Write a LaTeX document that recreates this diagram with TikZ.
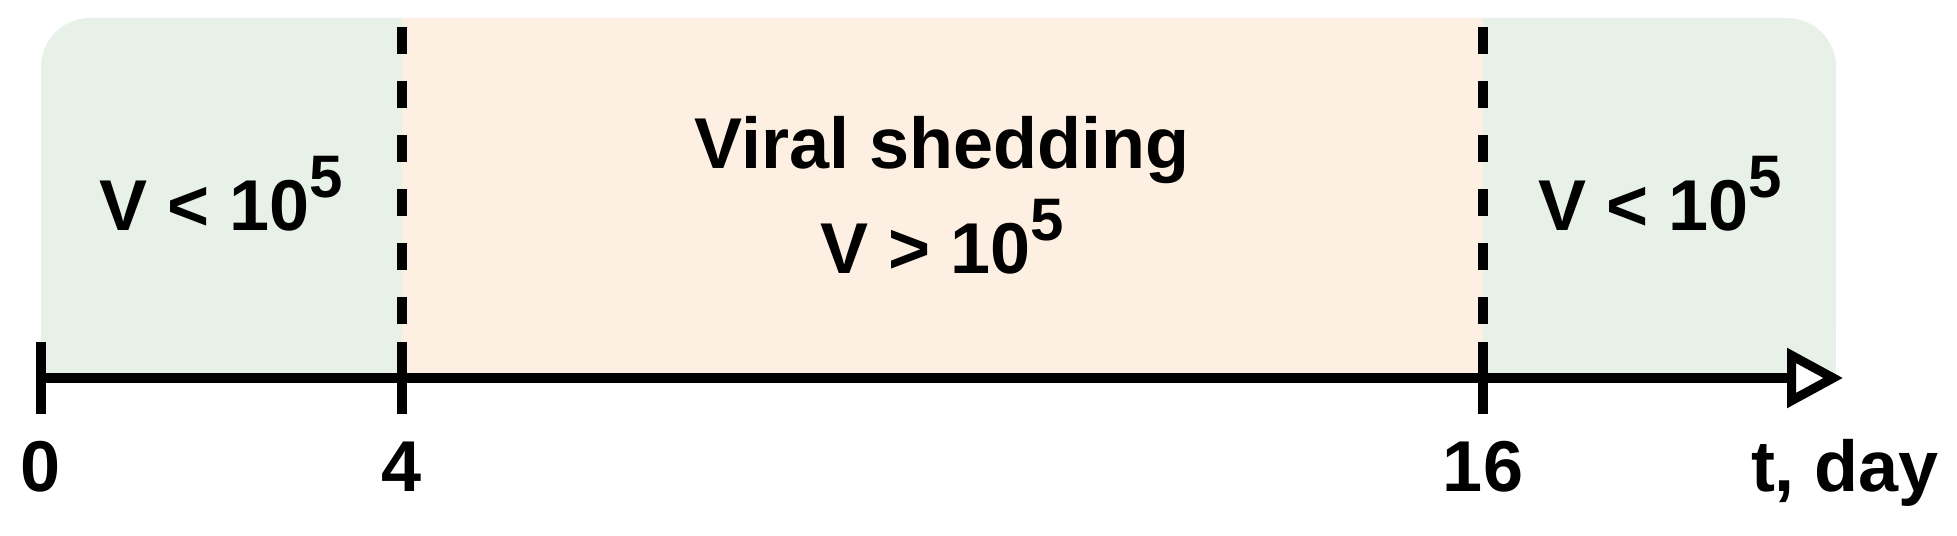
\documentclass[tikz,border=0pt]{standalone}
\usepackage{fontspec}
\setmainfont{Liberation Sans}
\usetikzlibrary{arrows.meta}
\definecolor{lowgreen}{HTML}{E7F1E7}
\definecolor{highorange}{HTML}{FDF0E3}
\newcommand\supfive{\raisebox{16.5pt}{\fontsize{30}{30}\selectfont 5}}
\begin{document}
\begin{tikzpicture}[x=0.5pt,y=-0.5pt,
  lbl/.style={font=\fontsize{36}{36}\selectfont\bfseries, inner sep=0pt, anchor=base},
  axisline/.style={line width=4.6pt},
  divider/.style={line width=4.6pt, dash pattern=on 13.5pt off 13.5pt},
  tickmark/.style={line width=4.6pt},
]
\useasboundingbox (0,0) rectangle (1957,535);
% backgrounds
\fill[lowgreen, rounded corners=24.5pt] (41,18) rectangle (1836,374);
\fill[lowgreen] (41,200) rectangle (1836,374);
\fill[highorange] (402,18) rectangle (1483,374);
% coordinates
\coordinate (t0) at (41,378);
\coordinate (t4) at (402,378);
\coordinate (t16) at (1483,378);
\coordinate (tend) at (1843,378);
\coordinate (d4top) at (402,27);
\coordinate (d16top) at (1483,27);
% dividers
\draw[divider] (d4top) -- (t4);
\draw[divider] (d16top) -- (t16);
% ticks
\draw[tickmark] ([yshift=18pt]t0) -- ([yshift=-18pt]t0);
\draw[tickmark] ([yshift=18pt]t4) -- ([yshift=-18pt]t4);
\draw[tickmark] ([yshift=18pt]t16) -- ([yshift=-18pt]t16);
% axis
\draw[axisline, -{Triangle[fill=white, length=28pt, width=29pt]}] (t0) -- (tend);
% region labels
\node[lbl] (lowleft) at (221,230) {V < 10\supfive};
\node[lbl] (shed) at (942,168) {Viral shedding};
\node[lbl] (high) at (942,273) {V > 10\supfive};
\node[lbl] (lowright) at (1660,230) {V < 10\supfive};
% tick labels
\node[lbl] (l0) at (41,491) {0};
\node[lbl] (l4) at (402,491) {4};
\node[lbl] (l16) at (1483,491) {16};
\node[lbl] (lt) at (1845,491) {t, day};
\end{tikzpicture}
\end{document}
